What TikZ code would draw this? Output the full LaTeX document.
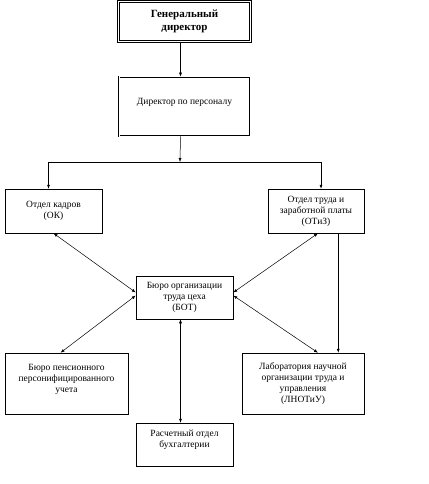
\documentclass[tikz,border=0pt]{standalone}
\usepackage{fontspec}
\setmainfont{Liberation Serif}
\usetikzlibrary{arrows.meta}

\tikzset{
  box/.style={draw, line width=0.5pt, align=center, inner sep=2pt, font=\fontsize{9.5}{11}\selectfont},
  link/.style={line width=0.5pt, -{Latex[length=4pt,width=3pt]}},
  both/.style={line width=0.5pt, {Latex[length=4pt,width=3pt]}-{Latex[length=4pt,width=3pt]}}
}

\begin{document}
\begin{tikzpicture}[x=1pt,y=-1pt]
    \useasboundingbox (0,0) rectangle (428,484);
    % management
    \node[box, line width=1pt, double, double distance=1.2pt, minimum width=132pt, minimum height=40pt, font=\bfseries\fontsize{11}{13}\selectfont] (gendir) at (184.5,21.5) {Генеральный\\директор};
    \node[box, line width=0.6pt, double, double distance=1pt, minimum width=131pt, minimum height=59pt] (dirpers) at (184.5,106.5) {Директор по персоналу\\ {}};
    % departments
    \node[box, minimum width=97pt, minimum height=44pt] (ok) at (53.5,211) {Отдел кадров\\(ОК)};
    \node[box, minimum width=96pt, minimum height=44pt] (otiz) at (316,211) {Отдел труда и\\заработной платы\\(ОТиЗ)};
    \node[box, minimum width=97pt, minimum height=43pt] (bot) at (184.5,297.5) {Бюро организации\\труда цеха\\(БОТ)};
    \node[box, minimum width=123pt, minimum height=61pt] (bpu) at (66.5,383.5) {Бюро пенсионного\\персонифицированного\\учета\\ {}};
    \node[box, minimum width=122pt, minimum height=61pt] (lnotu) at (303,383.5) {Лаборатория научной\\организации труда и\\управления\\(ЛНОТиУ)};
    \node[box, minimum width=97pt, minimum height=43pt] (rob) at (184.5,444.5) {Расчетный отдел\\бухгалтерии\\ {}};
    % connectors
    \coordinate (split) at (180,162);
    \draw[link] ([xshift=-4pt]gendir.south) -- ([xshift=-4pt]dirpers.north);
    \draw[link] ([xshift=-4pt]dirpers.south) -- (split);
    \draw[link] (split) -| ([xshift=-5pt]ok.north);
    \draw[link] (split) -| ([xshift=5pt]otiz.north);
    \draw[both] (ok.south) -- ([yshift=5pt]bot.west);
    \draw[both] ([xshift=-6pt]bpu.north) -- ([yshift=2pt]bot.west);
    \draw[both] ([xshift=2pt]otiz.south) -- ([yshift=5pt]bot.east);
    \draw[both] ([xshift=15pt]lnotu.north) -- ([yshift=2pt]bot.east);
    \draw[link] ([xshift=-26pt]otiz.south east) -- ([xshift=-26pt]otiz.south east |- lnotu.north);
    \draw[both] ([xshift=-4pt]bot.south) -- ([xshift=-4pt]rob.north);
  \end{tikzpicture}
\end{document}
